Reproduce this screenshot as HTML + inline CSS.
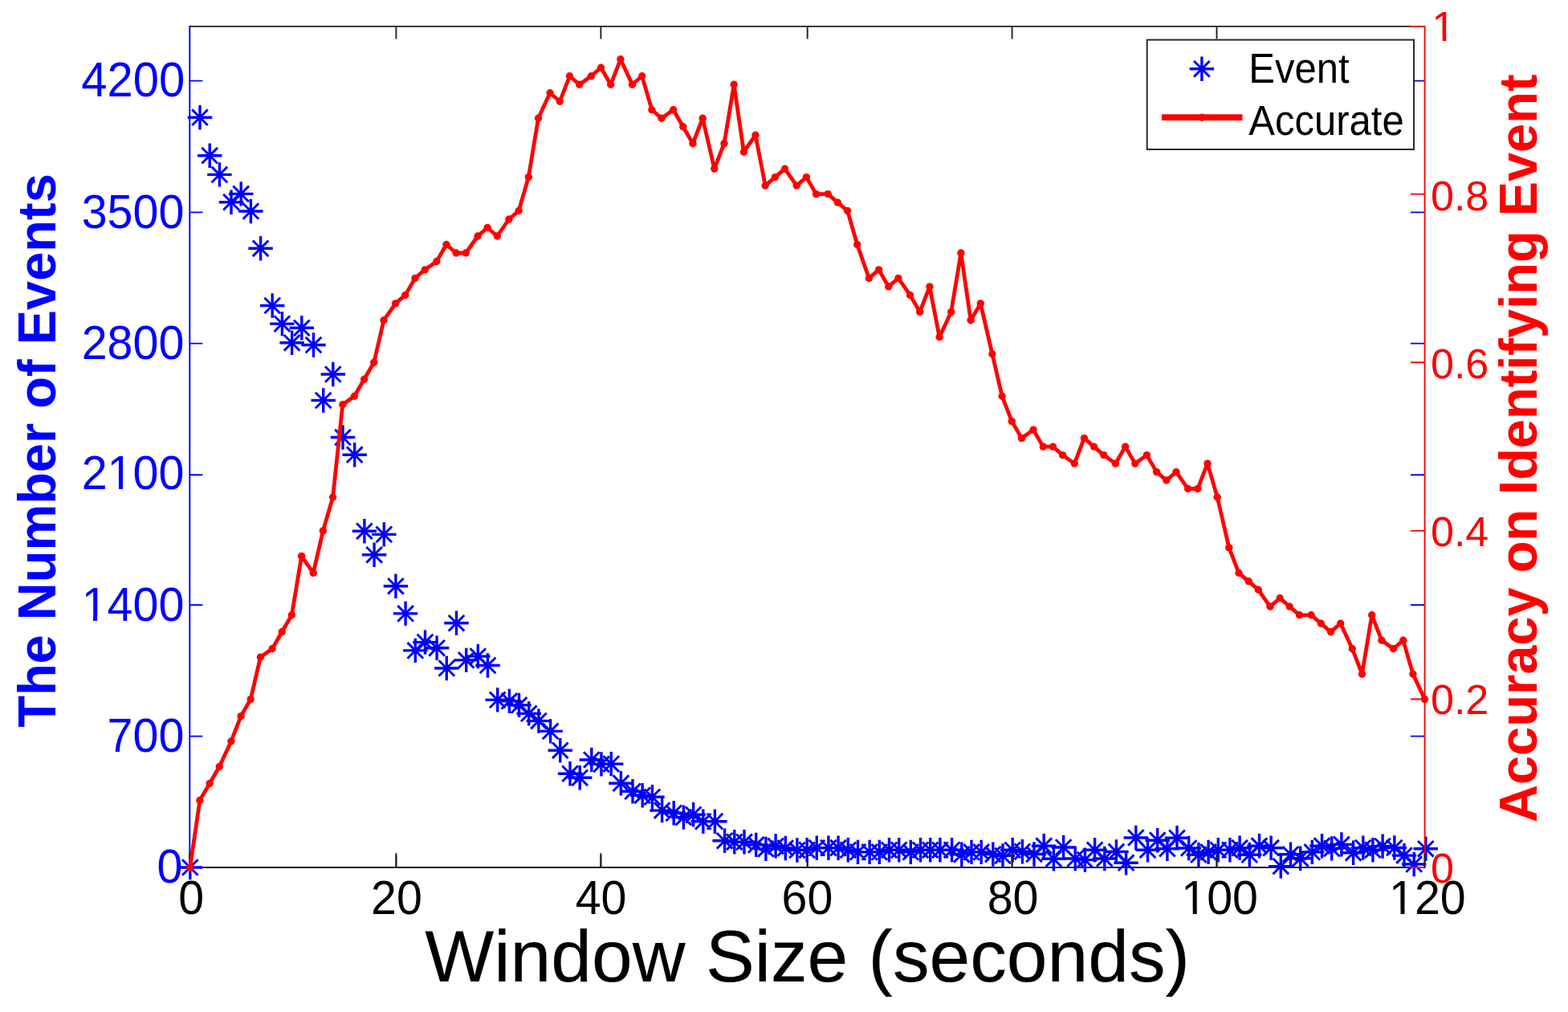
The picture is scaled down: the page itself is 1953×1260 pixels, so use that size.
<!DOCTYPE html>
<html lang="en">
<head>
<meta charset="utf-8">
<title>Window Size vs Events and Accuracy</title>
<style>
html,body{margin:0;padding:0;background:#fff;}
body{width:1953px;height:1260px;overflow:hidden;}
svg{display:block;}
</style>
</head>
<body>
<svg width="1953" height="1260" viewBox="0 0 1953 1260">
<rect width="1953" height="1260" fill="#ffffff"/>
<defs><clipPath id="c0"><path clip-rule="evenodd" d="M-172.2 -114.8h344.4v172.2h-344.4zM-92.97 -4.99H-81.34V11.48H-92.97zM-76.26 -4.99H-64.94V11.48H-76.26z"/></clipPath><clipPath id="c1"><path clip-rule="evenodd" d="M-172.2 -114.8h344.4v172.2h-344.4zM-124.89 -4.99H-113.26V11.48H-124.89zM-108.19 -4.99H-96.86V11.48H-108.19z"/></clipPath><clipPath id="c2"><path clip-rule="evenodd" d="M-171.9 -114.6h343.8v171.9h-343.8zM-45.00 -4.98H-33.39V11.46H-45.00zM-28.33 -4.98H-17.02V11.46H-28.33z"/></clipPath><clipPath id="c3"><path clip-rule="evenodd" d="M-171.9 -114.6h343.8v171.9h-343.8zM-45.00 -4.98H-33.39V11.46H-45.00zM-28.33 -4.98H-17.02V11.46H-28.33z"/></clipPath><clipPath id="c4"><path clip-rule="evenodd" d="M-156.0 -104.0h312.0v156.0h-312.0zM2.54 -4.52H13.08V10.40H2.54zM17.67 -4.52H27.93V10.40H17.67z"/></clipPath></defs>
<g id="ax1" fill="none" stroke-width="1.9">
<path d="M236.3 32.9H1774.6M236.3 1080.0H1774.6M493.4 32.9v15.5M493.4 1080.0v-15.5M748.4 32.9v15.5M748.4 1080.0v-15.5M1005.7 32.9v15.5M1005.7 1080.0v-15.5M1260.6 32.9v15.5M1260.6 1080.0v-15.5M1515.5 32.9v15.5M1515.5 1080.0v-15.5" stroke="#222222"/>
<path d="M236.3 31.95V1080.95M236.3 1080.0h16.1M1774.6 1080.0h-17.7M236.3 916.6h16.1M1774.6 916.6h-17.7M236.3 753.3h16.1M1774.6 753.3h-17.7M236.3 591.2h16.1M1774.6 591.2h-17.7M236.3 427.6h16.1M1774.6 427.6h-17.7M236.3 264.4h16.1M1774.6 264.4h-17.7M236.3 100.6h16.1M1774.6 100.6h-17.7" stroke="#0000ff"/>
</g>
<path id="stars-plus" d="M221.6 1080h30.4M236.8 1064.8v30.4M233.8 146.2h30.4M249 131v30.4M246 193.7h30.4M261.2 178.5v30.4M258.2 217.4h30.4M273.4 202.2v30.4M272.8 251.7h30.4M288 236.5v30.4M285 241.4h30.4M300.2 226.2v30.4M297.2 263h30.4M312.4 247.8v30.4M309.4 309.3h30.4M324.6 294.1v30.4M324 380.5h30.4M339.2 365.3v30.4M336.2 403.1h30.4M351.4 387.9v30.4M348.4 426.8h30.4M363.6 411.6v30.4M360.6 408.3h30.4M375.8 393.1v30.4M375.3 429.5h30.4M390.5 414.3v30.4M387.5 498.5h30.4M402.7 483.3v30.4M399.6 466h30.4M414.8 450.8v30.4M411.8 544.5h30.4M427 529.3v30.4M426.5 566.2h30.4M441.7 551v30.4M438.7 661.3h30.4M453.9 646.1v30.4M450.9 690.8h30.4M466.1 675.6v30.4M463.1 665.4h30.4M478.3 650.2v30.4M477.7 729.8h30.4M492.9 714.6v30.4M489.9 763.9h30.4M505.1 748.7v30.4M502.1 809.9h30.4M517.3 794.7v30.4M514.3 799.6h30.4M529.5 784.4v30.4M528.9 806.8h30.4M544.1 791.6v30.4M541.1 832h30.4M556.3 816.8v30.4M553.3 775.8h30.4M568.5 760.6v30.4M565.5 821.9h30.4M580.7 806.7v30.4M580.1 817.1h30.4M595.3 801.9v30.4M592.3 828.5h30.4M607.5 813.3v30.4M604.5 871.4h30.4M619.7 856.2v30.4M619.2 872.9h30.4M634.4 857.7v30.4M631.3 877.9h30.4M646.5 862.7v30.4M643.5 888.4h30.4M658.7 873.2v30.4M655.7 897.6h30.4M670.9 882.4v30.4M670.4 910.4h30.4M685.6 895.2v30.4M682.6 934.3h30.4M697.8 919.1v30.4M694.8 963.3h30.4M710 948.1v30.4M707 968.3h30.4M722.2 953.1v30.4M721.6 946h30.4M736.8 930.8v30.4M733.8 951.4h30.4M749 936.2v30.4M746 951.1h30.4M761.2 935.9v30.4M758.2 975.2h30.4M773.4 960v30.4M772.8 985.3h30.4M788 970.1v30.4M785 990.3h30.4M800.2 975.1v30.4M797.2 992.3h30.4M812.4 977.1v30.4M809.4 1009.1h30.4M824.6 993.9v30.4M824 1012.3h30.4M839.2 997.1v30.4M836.2 1017.6h30.4M851.4 1002.4v30.4M848.4 1014.3h30.4M863.6 999.1v30.4M860.6 1022.8h30.4M875.8 1007.6v30.4M875.2 1022.7h30.4M890.4 1007.5v30.4M887.4 1046.8h30.4M902.6 1031.6v30.4M899.6 1048.3h30.4M914.8 1033.1v30.4M911.8 1048.3h30.4M927 1033.1v30.4M926.5 1051.9h30.4M941.7 1036.7v30.4M938.7 1056.9h30.4M953.9 1041.7v30.4M950.9 1053.4h30.4M966.1 1038.2v30.4M963.1 1056h30.4M978.3 1040.8v30.4M977.7 1058.5h30.4M992.9 1043.3v30.4M989.9 1058.3h30.4M1005.1 1043.1v30.4M1002.1 1055.7h30.4M1017.3 1040.5v30.4M1016.7 1055.7h30.4M1031.9 1040.5v30.4M1028.9 1055.7h30.4M1044.1 1040.5v30.4M1041.1 1058.3h30.4M1056.3 1043.1v30.4M1053.3 1060.9h30.4M1068.5 1045.7v30.4M1067.9 1060.9h30.4M1083.1 1045.7v30.4M1080.1 1060.9h30.4M1095.3 1045.7v30.4M1092.3 1058.3h30.4M1107.5 1043.1v30.4M1104.5 1058.3h30.4M1119.7 1043.1v30.4M1119.1 1060.9h30.4M1134.3 1045.7v30.4M1131.3 1058.3h30.4M1146.5 1043.1v30.4M1143.5 1058.3h30.4M1158.7 1043.1v30.4M1155.7 1058.3h30.4M1170.9 1043.1v30.4M1170.4 1058.3h30.4M1185.6 1043.1v30.4M1182.6 1063.8h30.4M1197.8 1048.6v30.4M1194.8 1060.9h30.4M1210 1045.7v30.4M1207 1060.9h30.4M1222.2 1045.7v30.4M1221.6 1063.6h30.4M1236.8 1048.4v30.4M1233.8 1065.4h30.4M1249 1050.2v30.4M1246 1058.3h30.4M1261.2 1043.1v30.4M1258.2 1060.3h30.4M1273.4 1045.1v30.4M1272.8 1063.5h30.4M1288 1048.3v30.4M1285 1053.2h30.4M1300.2 1038v30.4M1297.2 1069.3h30.4M1312.4 1054.1v30.4M1309.4 1055h30.4M1324.6 1039.8v30.4M1324 1069h30.4M1339.2 1053.8v30.4M1336.2 1070.6h30.4M1351.4 1055.4v30.4M1348.4 1058.3h30.4M1363.6 1043.1v30.4M1360.6 1069h30.4M1375.8 1053.8v30.4M1375.2 1060.4h30.4M1390.4 1045.2v30.4M1387.4 1074.2h30.4M1402.6 1059v30.4M1399.6 1043h30.4M1414.8 1027.8v30.4M1414.3 1058.3h30.4M1429.5 1043.1v30.4M1426.5 1046.2h30.4M1441.7 1031v30.4M1438.7 1056.7h30.4M1453.9 1041.5v30.4M1450.8 1043.3h30.4M1466 1028.1v30.4M1465.5 1056h30.4M1480.7 1040.8v30.4M1477.7 1064.2h30.4M1492.9 1049v30.4M1489.9 1060.9h30.4M1505.1 1045.7v30.4M1502.1 1058.3h30.4M1517.3 1043.1v30.4M1516.7 1058.3h30.4M1531.9 1043.1v30.4M1528.9 1055.7h30.4M1544.1 1040.5v30.4M1541.1 1064.2h30.4M1556.3 1049v30.4M1553.3 1053.2h30.4M1568.5 1038v30.4M1567.9 1055.7h30.4M1583.1 1040.5v30.4M1580.1 1078.6h30.4M1595.3 1063.4v30.4M1592.3 1063.8h30.4M1607.5 1048.6v30.4M1604.5 1068.8h30.4M1619.7 1053.6v30.4M1619.1 1060.9h30.4M1634.3 1045.7v30.4M1631.3 1053.2h30.4M1646.5 1038v30.4M1643.5 1056.4h30.4M1658.7 1041.2v30.4M1655.7 1051.4h30.4M1670.9 1036.2v30.4M1670.4 1061.8h30.4M1685.6 1046.6v30.4M1682.6 1055.6h30.4M1697.8 1040.4v30.4M1694.7 1058.3h30.4M1709.9 1043.1v30.4M1706.9 1053.6h30.4M1722.1 1038.4v30.4M1721.6 1055.5h30.4M1736.8 1040.3v30.4M1733.8 1065.1h30.4M1749 1049.9v30.4M1746 1076h30.4M1761.2 1060.8v30.4M1760.6 1056.8h30.4M1775.8 1041.6v30.4" stroke="#0000ff" stroke-width="3.4" fill="none"/>
<path id="stars-cross" d="M227 1070.2l19.6 19.6M227 1089.8l19.6 -19.6M239.2 136.4l19.6 19.6M239.2 156l19.6 -19.6M251.4 183.9l19.6 19.6M251.4 203.5l19.6 -19.6M263.6 207.6l19.6 19.6M263.6 227.2l19.6 -19.6M278.2 241.9l19.6 19.6M278.2 261.5l19.6 -19.6M290.4 231.6l19.6 19.6M290.4 251.2l19.6 -19.6M302.6 253.2l19.6 19.6M302.6 272.8l19.6 -19.6M314.8 299.5l19.6 19.6M314.8 319.1l19.6 -19.6M329.4 370.7l19.6 19.6M329.4 390.3l19.6 -19.6M341.6 393.3l19.6 19.6M341.6 412.9l19.6 -19.6M353.8 417l19.6 19.6M353.8 436.6l19.6 -19.6M366 398.5l19.6 19.6M366 418.1l19.6 -19.6M380.7 419.7l19.6 19.6M380.7 439.3l19.6 -19.6M392.9 488.7l19.6 19.6M392.9 508.3l19.6 -19.6M405 456.2l19.6 19.6M405 475.8l19.6 -19.6M417.2 534.7l19.6 19.6M417.2 554.3l19.6 -19.6M431.9 556.4l19.6 19.6M431.9 576l19.6 -19.6M444.1 651.5l19.6 19.6M444.1 671.1l19.6 -19.6M456.3 681l19.6 19.6M456.3 700.6l19.6 -19.6M468.5 655.6l19.6 19.6M468.5 675.2l19.6 -19.6M483.1 720l19.6 19.6M483.1 739.6l19.6 -19.6M495.3 754.1l19.6 19.6M495.3 773.7l19.6 -19.6M507.5 800.1l19.6 19.6M507.5 819.7l19.6 -19.6M519.7 789.8l19.6 19.6M519.7 809.4l19.6 -19.6M534.3 797l19.6 19.6M534.3 816.6l19.6 -19.6M546.5 822.2l19.6 19.6M546.5 841.8l19.6 -19.6M558.7 766l19.6 19.6M558.7 785.6l19.6 -19.6M570.9 812.1l19.6 19.6M570.9 831.7l19.6 -19.6M585.5 807.3l19.6 19.6M585.5 826.9l19.6 -19.6M597.7 818.7l19.6 19.6M597.7 838.3l19.6 -19.6M609.9 861.6l19.6 19.6M609.9 881.2l19.6 -19.6M624.6 863.1l19.6 19.6M624.6 882.7l19.6 -19.6M636.7 868.1l19.6 19.6M636.7 887.7l19.6 -19.6M648.9 878.6l19.6 19.6M648.9 898.2l19.6 -19.6M661.1 887.8l19.6 19.6M661.1 907.4l19.6 -19.6M675.8 900.6l19.6 19.6M675.8 920.2l19.6 -19.6M688 924.5l19.6 19.6M688 944.1l19.6 -19.6M700.2 953.5l19.6 19.6M700.2 973.1l19.6 -19.6M712.4 958.5l19.6 19.6M712.4 978.1l19.6 -19.6M727 936.2l19.6 19.6M727 955.8l19.6 -19.6M739.2 941.6l19.6 19.6M739.2 961.2l19.6 -19.6M751.4 941.3l19.6 19.6M751.4 960.9l19.6 -19.6M763.6 965.4l19.6 19.6M763.6 985l19.6 -19.6M778.2 975.5l19.6 19.6M778.2 995.1l19.6 -19.6M790.4 980.5l19.6 19.6M790.4 1000.1l19.6 -19.6M802.6 982.5l19.6 19.6M802.6 1002.1l19.6 -19.6M814.8 999.3l19.6 19.6M814.8 1018.9l19.6 -19.6M829.4 1002.5l19.6 19.6M829.4 1022.1l19.6 -19.6M841.6 1007.8l19.6 19.6M841.6 1027.4l19.6 -19.6M853.8 1004.5l19.6 19.6M853.8 1024.1l19.6 -19.6M866 1013l19.6 19.6M866 1032.6l19.6 -19.6M880.6 1012.9l19.6 19.6M880.6 1032.5l19.6 -19.6M892.8 1037l19.6 19.6M892.8 1056.6l19.6 -19.6M905 1038.5l19.6 19.6M905 1058.1l19.6 -19.6M917.2 1038.5l19.6 19.6M917.2 1058.1l19.6 -19.6M931.9 1042.1l19.6 19.6M931.9 1061.7l19.6 -19.6M944.1 1047.1l19.6 19.6M944.1 1066.7l19.6 -19.6M956.3 1043.6l19.6 19.6M956.3 1063.2l19.6 -19.6M968.5 1046.2l19.6 19.6M968.5 1065.8l19.6 -19.6M983.1 1048.7l19.6 19.6M983.1 1068.3l19.6 -19.6M995.3 1048.5l19.6 19.6M995.3 1068.1l19.6 -19.6M1007.5 1045.9l19.6 19.6M1007.5 1065.5l19.6 -19.6M1022.1 1045.9l19.6 19.6M1022.1 1065.5l19.6 -19.6M1034.3 1045.9l19.6 19.6M1034.3 1065.5l19.6 -19.6M1046.5 1048.5l19.6 19.6M1046.5 1068.1l19.6 -19.6M1058.7 1051.1l19.6 19.6M1058.7 1070.7l19.6 -19.6M1073.3 1051.1l19.6 19.6M1073.3 1070.7l19.6 -19.6M1085.5 1051.1l19.6 19.6M1085.5 1070.7l19.6 -19.6M1097.7 1048.5l19.6 19.6M1097.7 1068.1l19.6 -19.6M1109.9 1048.5l19.6 19.6M1109.9 1068.1l19.6 -19.6M1124.5 1051.1l19.6 19.6M1124.5 1070.7l19.6 -19.6M1136.7 1048.5l19.6 19.6M1136.7 1068.1l19.6 -19.6M1148.9 1048.5l19.6 19.6M1148.9 1068.1l19.6 -19.6M1161.1 1048.5l19.6 19.6M1161.1 1068.1l19.6 -19.6M1175.8 1048.5l19.6 19.6M1175.8 1068.1l19.6 -19.6M1188 1054l19.6 19.6M1188 1073.6l19.6 -19.6M1200.2 1051.1l19.6 19.6M1200.2 1070.7l19.6 -19.6M1212.4 1051.1l19.6 19.6M1212.4 1070.7l19.6 -19.6M1227 1053.8l19.6 19.6M1227 1073.4l19.6 -19.6M1239.2 1055.6l19.6 19.6M1239.2 1075.2l19.6 -19.6M1251.4 1048.5l19.6 19.6M1251.4 1068.1l19.6 -19.6M1263.6 1050.5l19.6 19.6M1263.6 1070.1l19.6 -19.6M1278.2 1053.7l19.6 19.6M1278.2 1073.3l19.6 -19.6M1290.4 1043.4l19.6 19.6M1290.4 1063l19.6 -19.6M1302.6 1059.5l19.6 19.6M1302.6 1079.1l19.6 -19.6M1314.8 1045.2l19.6 19.6M1314.8 1064.8l19.6 -19.6M1329.4 1059.2l19.6 19.6M1329.4 1078.8l19.6 -19.6M1341.6 1060.8l19.6 19.6M1341.6 1080.4l19.6 -19.6M1353.8 1048.5l19.6 19.6M1353.8 1068.1l19.6 -19.6M1366 1059.2l19.6 19.6M1366 1078.8l19.6 -19.6M1380.6 1050.6l19.6 19.6M1380.6 1070.2l19.6 -19.6M1392.8 1064.4l19.6 19.6M1392.8 1084l19.6 -19.6M1405 1033.2l19.6 19.6M1405 1052.8l19.6 -19.6M1419.7 1048.5l19.6 19.6M1419.7 1068.1l19.6 -19.6M1431.9 1036.4l19.6 19.6M1431.9 1056l19.6 -19.6M1444.1 1046.9l19.6 19.6M1444.1 1066.5l19.6 -19.6M1456.2 1033.5l19.6 19.6M1456.2 1053.1l19.6 -19.6M1470.9 1046.2l19.6 19.6M1470.9 1065.8l19.6 -19.6M1483.1 1054.4l19.6 19.6M1483.1 1074l19.6 -19.6M1495.3 1051.1l19.6 19.6M1495.3 1070.7l19.6 -19.6M1507.5 1048.5l19.6 19.6M1507.5 1068.1l19.6 -19.6M1522.1 1048.5l19.6 19.6M1522.1 1068.1l19.6 -19.6M1534.3 1045.9l19.6 19.6M1534.3 1065.5l19.6 -19.6M1546.5 1054.4l19.6 19.6M1546.5 1074l19.6 -19.6M1558.7 1043.4l19.6 19.6M1558.7 1063l19.6 -19.6M1573.3 1045.9l19.6 19.6M1573.3 1065.5l19.6 -19.6M1585.5 1068.8l19.6 19.6M1585.5 1088.4l19.6 -19.6M1597.7 1054l19.6 19.6M1597.7 1073.6l19.6 -19.6M1609.9 1059l19.6 19.6M1609.9 1078.6l19.6 -19.6M1624.5 1051.1l19.6 19.6M1624.5 1070.7l19.6 -19.6M1636.7 1043.4l19.6 19.6M1636.7 1063l19.6 -19.6M1648.9 1046.6l19.6 19.6M1648.9 1066.2l19.6 -19.6M1661.1 1041.6l19.6 19.6M1661.1 1061.2l19.6 -19.6M1675.8 1052l19.6 19.6M1675.8 1071.6l19.6 -19.6M1688 1045.8l19.6 19.6M1688 1065.4l19.6 -19.6M1700.1 1048.5l19.6 19.6M1700.1 1068.1l19.6 -19.6M1712.3 1043.8l19.6 19.6M1712.3 1063.4l19.6 -19.6M1727 1045.7l19.6 19.6M1727 1065.3l19.6 -19.6M1739.2 1055.3l19.6 19.6M1739.2 1074.9l19.6 -19.6M1751.4 1066.2l19.6 19.6M1751.4 1085.8l19.6 -19.6M1766 1047l19.6 19.6M1766 1066.6l19.6 -19.6" stroke="#0000ff" stroke-width="2.9" fill="none"/>
<g id="ax2" fill="none" stroke-width="1.9">
<path d="M1774.6 31.95V1080.95M1774.6 1080.0h-17.7M1774.6 870.5h-17.7M1774.6 660.9h-17.7M1774.6 451.3h-17.7M1774.6 241.6h-17.7M1774.6 32.9h-17.7" stroke="#ff0000"/>
<path d="M236.3 1080.95v-18.65M493.4 1080.95v-18.65M748.4 1080.95v-18.65M1005.7 1080.95v-18.65M1260.6 1080.95v-18.65M1515.5 1080.95v-18.65M1774.4 1080.95v-18.65" stroke="#222222"/>
</g>
<polyline id="acc" points="236.7,1080.3 248.9,996.4 261.1,975.5 273.3,954.5 287.9,923 300.1,891.6 312.2,870.6 324.4,818.2 339.1,807.7 351.2,786.7 363.4,765.8 375.6,692.4 390.2,713.4 402.4,660.9 414.6,619 426.8,503.7 441.4,493.2 453.6,472.2 465.8,451.3 478,398.8 492.6,377.9 504.8,367.4 517,346.4 529.2,335.9 543.8,325.5 556,304.5 568.1,315 580.3,315 595,294 607.1,283.5 619.3,294 633.9,273 646.1,262.5 658.3,220.6 670.5,147.2 685.1,115.8 697.3,126.3 709.5,94.8 721.7,105.3 736.3,94.8 748.5,84.3 760.7,105.3 772.9,73.8 787.5,105.3 799.7,94.8 811.9,136.7 824,147.2 838.7,136.7 850.8,157.7 863,178.7 875.2,147.2 889.8,210.1 902,178.7 914.2,105.3 926.4,189.2 941,168.2 953.2,231.1 965.4,220.6 977.6,210.1 992.2,231.1 1004.4,220.6 1016.6,241.6 1031.2,241.6 1043.4,252.1 1055.6,262.5 1067.7,304.5 1082.4,346.4 1094.6,335.9 1106.7,356.9 1118.9,346.4 1133.5,367.4 1145.7,388.4 1157.9,356.9 1170.1,419.8 1184.7,388.4 1196.9,315 1209.1,398.8 1221.3,377.9 1235.9,440.8 1248.1,493.2 1260.3,524.6 1272.5,545.6 1287.1,535.1 1299.3,556.1 1311.5,556.1 1323.6,566.6 1338.3,577.1 1350.4,545.6 1362.6,556.1 1374.8,566.6 1389.4,577.1 1401.6,556.1 1413.8,577.1 1428.4,566.6 1440.6,587.6 1452.8,598 1465,587.6 1479.6,608.5 1491.8,608.5 1504,577.1 1516.2,619 1530.8,681.9 1543,713.4 1555.2,723.8 1567.3,734.3 1582,755.3 1594.2,744.8 1606.3,755.3 1618.5,765.8 1633.1,765.8 1645.3,776.3 1657.5,786.7 1669.7,776.3 1684.3,807.7 1696.5,839.2 1708.7,765.8 1720.9,797.2 1735.5,807.7 1747.7,797.2 1759.9,839.2 1774.5,870.6" stroke="#ff0000" stroke-width="4.8" fill="none" stroke-linejoin="round" stroke-linecap="round"/>
<g fill="#ff0000">
<circle cx="236.7" cy="1080.3" r="4.7"/>
<circle cx="248.9" cy="996.4" r="4.7"/>
<circle cx="261.1" cy="975.5" r="4.7"/>
<circle cx="273.3" cy="954.5" r="4.7"/>
<circle cx="287.9" cy="923" r="4.7"/>
<circle cx="300.1" cy="891.6" r="4.7"/>
<circle cx="312.2" cy="870.6" r="4.7"/>
<circle cx="324.4" cy="818.2" r="4.7"/>
<circle cx="339.1" cy="807.7" r="4.7"/>
<circle cx="351.2" cy="786.7" r="4.7"/>
<circle cx="363.4" cy="765.8" r="4.7"/>
<circle cx="375.6" cy="692.4" r="4.7"/>
<circle cx="390.2" cy="713.4" r="4.7"/>
<circle cx="402.4" cy="660.9" r="4.7"/>
<circle cx="414.6" cy="619" r="4.7"/>
<circle cx="426.8" cy="503.7" r="4.7"/>
<circle cx="441.4" cy="493.2" r="4.7"/>
<circle cx="453.6" cy="472.2" r="4.7"/>
<circle cx="465.8" cy="451.3" r="4.7"/>
<circle cx="478" cy="398.8" r="4.7"/>
<circle cx="492.6" cy="377.9" r="4.7"/>
<circle cx="504.8" cy="367.4" r="4.7"/>
<circle cx="517" cy="346.4" r="4.7"/>
<circle cx="529.2" cy="335.9" r="4.7"/>
<circle cx="543.8" cy="325.5" r="4.7"/>
<circle cx="556" cy="304.5" r="4.7"/>
<circle cx="568.1" cy="315" r="4.7"/>
<circle cx="580.3" cy="315" r="4.7"/>
<circle cx="595" cy="294" r="4.7"/>
<circle cx="607.1" cy="283.5" r="4.7"/>
<circle cx="619.3" cy="294" r="4.7"/>
<circle cx="633.9" cy="273" r="4.7"/>
<circle cx="646.1" cy="262.5" r="4.7"/>
<circle cx="658.3" cy="220.6" r="4.7"/>
<circle cx="670.5" cy="147.2" r="4.7"/>
<circle cx="685.1" cy="115.8" r="4.7"/>
<circle cx="697.3" cy="126.3" r="4.7"/>
<circle cx="709.5" cy="94.8" r="4.7"/>
<circle cx="721.7" cy="105.3" r="4.7"/>
<circle cx="736.3" cy="94.8" r="4.7"/>
<circle cx="748.5" cy="84.3" r="4.7"/>
<circle cx="760.7" cy="105.3" r="4.7"/>
<circle cx="772.9" cy="73.8" r="4.7"/>
<circle cx="787.5" cy="105.3" r="4.7"/>
<circle cx="799.7" cy="94.8" r="4.7"/>
<circle cx="811.9" cy="136.7" r="4.7"/>
<circle cx="824" cy="147.2" r="4.7"/>
<circle cx="838.7" cy="136.7" r="4.7"/>
<circle cx="850.8" cy="157.7" r="4.7"/>
<circle cx="863" cy="178.7" r="4.7"/>
<circle cx="875.2" cy="147.2" r="4.7"/>
<circle cx="889.8" cy="210.1" r="4.7"/>
<circle cx="902" cy="178.7" r="4.7"/>
<circle cx="914.2" cy="105.3" r="4.7"/>
<circle cx="926.4" cy="189.2" r="4.7"/>
<circle cx="941" cy="168.2" r="4.7"/>
<circle cx="953.2" cy="231.1" r="4.7"/>
<circle cx="965.4" cy="220.6" r="4.7"/>
<circle cx="977.6" cy="210.1" r="4.7"/>
<circle cx="992.2" cy="231.1" r="4.7"/>
<circle cx="1004.4" cy="220.6" r="4.7"/>
<circle cx="1016.6" cy="241.6" r="4.7"/>
<circle cx="1031.2" cy="241.6" r="4.7"/>
<circle cx="1043.4" cy="252.1" r="4.7"/>
<circle cx="1055.6" cy="262.5" r="4.7"/>
<circle cx="1067.7" cy="304.5" r="4.7"/>
<circle cx="1082.4" cy="346.4" r="4.7"/>
<circle cx="1094.6" cy="335.9" r="4.7"/>
<circle cx="1106.7" cy="356.9" r="4.7"/>
<circle cx="1118.9" cy="346.4" r="4.7"/>
<circle cx="1133.5" cy="367.4" r="4.7"/>
<circle cx="1145.7" cy="388.4" r="4.7"/>
<circle cx="1157.9" cy="356.9" r="4.7"/>
<circle cx="1170.1" cy="419.8" r="4.7"/>
<circle cx="1184.7" cy="388.4" r="4.7"/>
<circle cx="1196.9" cy="315" r="4.7"/>
<circle cx="1209.1" cy="398.8" r="4.7"/>
<circle cx="1221.3" cy="377.9" r="4.7"/>
<circle cx="1235.9" cy="440.8" r="4.7"/>
<circle cx="1248.1" cy="493.2" r="4.7"/>
<circle cx="1260.3" cy="524.6" r="4.7"/>
<circle cx="1272.5" cy="545.6" r="4.7"/>
<circle cx="1287.1" cy="535.1" r="4.7"/>
<circle cx="1299.3" cy="556.1" r="4.7"/>
<circle cx="1311.5" cy="556.1" r="4.7"/>
<circle cx="1323.6" cy="566.6" r="4.7"/>
<circle cx="1338.3" cy="577.1" r="4.7"/>
<circle cx="1350.4" cy="545.6" r="4.7"/>
<circle cx="1362.6" cy="556.1" r="4.7"/>
<circle cx="1374.8" cy="566.6" r="4.7"/>
<circle cx="1389.4" cy="577.1" r="4.7"/>
<circle cx="1401.6" cy="556.1" r="4.7"/>
<circle cx="1413.8" cy="577.1" r="4.7"/>
<circle cx="1428.4" cy="566.6" r="4.7"/>
<circle cx="1440.6" cy="587.6" r="4.7"/>
<circle cx="1452.8" cy="598" r="4.7"/>
<circle cx="1465" cy="587.6" r="4.7"/>
<circle cx="1479.6" cy="608.5" r="4.7"/>
<circle cx="1491.8" cy="608.5" r="4.7"/>
<circle cx="1504" cy="577.1" r="4.7"/>
<circle cx="1516.2" cy="619" r="4.7"/>
<circle cx="1530.8" cy="681.9" r="4.7"/>
<circle cx="1543" cy="713.4" r="4.7"/>
<circle cx="1555.2" cy="723.8" r="4.7"/>
<circle cx="1567.3" cy="734.3" r="4.7"/>
<circle cx="1582" cy="755.3" r="4.7"/>
<circle cx="1594.2" cy="744.8" r="4.7"/>
<circle cx="1606.3" cy="755.3" r="4.7"/>
<circle cx="1618.5" cy="765.8" r="4.7"/>
<circle cx="1633.1" cy="765.8" r="4.7"/>
<circle cx="1645.3" cy="776.3" r="4.7"/>
<circle cx="1657.5" cy="786.7" r="4.7"/>
<circle cx="1669.7" cy="776.3" r="4.7"/>
<circle cx="1684.3" cy="807.7" r="4.7"/>
<circle cx="1696.5" cy="839.2" r="4.7"/>
<circle cx="1708.7" cy="765.8" r="4.7"/>
<circle cx="1720.9" cy="797.2" r="4.7"/>
<circle cx="1735.5" cy="807.7" r="4.7"/>
<circle cx="1747.7" cy="797.2" r="4.7"/>
<circle cx="1759.9" cy="839.2" r="4.7"/>
<circle cx="1774.5" cy="870.6" r="4.7"/>
</g>
<g font-family="'Liberation Sans', Arial, Helvetica, sans-serif">
<text transform="translate(230.2 120.3) scale(1 1.045)" font-size="58.0" fill="#0000ff" text-anchor="end">4200</text>
<text transform="translate(229.3 283.6) scale(1 1.045)" font-size="57.4" fill="#0000ff" text-anchor="end">3500</text>
<text transform="translate(229.3 447.2) scale(1 1.045)" font-size="57.4" fill="#0000ff" text-anchor="end">2800</text>
<text transform="translate(229.3 608.9) scale(1 1.045)" font-size="57.4" fill="#0000ff" text-anchor="end" clip-path="url(#c0)">2100</text>
<text transform="translate(229.3 772.5) scale(1 1.045)" font-size="57.4" fill="#0000ff" text-anchor="end" clip-path="url(#c1)">1400</text>
<text transform="translate(229.3 935.6) scale(1 1.045)" font-size="57.4" fill="#0000ff" text-anchor="end">700</text>
<text transform="translate(227.4 1098.5) scale(1 1.045)" font-size="57.4" fill="#0000ff" text-anchor="end">0</text>
<text transform="translate(238.2 1138.2) scale(1 1.04)" font-size="57.3" fill="#000000" text-anchor="middle">0</text>
<text transform="translate(493.9 1138.2) scale(1 1.04)" font-size="57.3" fill="#000000" text-anchor="middle">20</text>
<text transform="translate(748.5 1138.2) scale(1 1.04)" font-size="57.3" fill="#000000" text-anchor="middle">40</text>
<text transform="translate(1005.4 1138.2) scale(1 1.04)" font-size="57.3" fill="#000000" text-anchor="middle">60</text>
<text transform="translate(1261.6 1138.2) scale(1 1.04)" font-size="57.3" fill="#000000" text-anchor="middle">80</text>
<text transform="translate(1519.1 1138.2) scale(1 1.04)" font-size="57.3" fill="#000000" text-anchor="middle" clip-path="url(#c2)">100</text>
<text transform="translate(1777.9 1138.2) scale(1 1.04)" font-size="57.3" fill="#000000" text-anchor="middle" clip-path="url(#c3)">120</text>
<text transform="translate(1782 1098.5) scale(1 0.995)" font-size="52" fill="#ff0000" text-anchor="start">0</text>
<text transform="translate(1782 889) scale(1 0.995)" font-size="52" fill="#ff0000" text-anchor="start">0.2</text>
<text transform="translate(1782 680.3) scale(1 0.995)" font-size="52" fill="#ff0000" text-anchor="start">0.4</text>
<text transform="translate(1782 470.7) scale(1 0.995)" font-size="52" fill="#ff0000" text-anchor="start">0.6</text>
<text transform="translate(1782 261.6) scale(1 0.995)" font-size="52" fill="#ff0000" text-anchor="start">0.8</text>
<text transform="translate(1783.6 50.8) scale(1 0.995)" font-size="52" fill="#ff0000" text-anchor="start" clip-path="url(#c4)">1</text>
<text transform="translate(1005.6 1221.8)" font-size="91.2" fill="#000000" text-anchor="middle" stroke="#000000" stroke-width="0.15">Window Size (seconds)</text>
<text transform="translate(69.2 561) rotate(-90) scale(1 1.035)" font-size="65" fill="#0000ff" text-anchor="middle" font-weight="bold">The Number of Events</text>
<text transform="translate(1913.6 558.2) rotate(-90) scale(1 1.035)" font-size="65" fill="#ff0000" text-anchor="middle" font-weight="bold">Accuracy on Identifying Event</text>
</g>
<g id="legend" font-family="'Liberation Sans', Arial, Helvetica, sans-serif">
<rect x="1428.7" y="49.6" width="332.3" height="136.4" fill="#ffffff" stroke="#222222" stroke-width="1.9"/>
<path d="M1481.7 85.8h30.4M1496.9 70.6v30.4" stroke="#0000ff" stroke-width="3.4" fill="none"/>
<path d="M1487.1 76l19.6 19.6M1487.1 95.6l19.6 -19.6" stroke="#0000ff" stroke-width="2.9" fill="none"/>
<path d="M1446.9 146.1H1547.5" stroke="#ff0000" stroke-width="7.6" fill="none"/>
<circle cx="1497" cy="146.3" r="4.7" fill="#ff0000"/>
<text transform="translate(1555.3 103.1) scale(1 1.045)" font-size="49" fill="#000000" text-anchor="start">Event</text>
<text transform="translate(1555.3 168.4) scale(1 1.045)" font-size="49" fill="#000000" text-anchor="start">Accurate</text>
</g>
</svg>
</body>
</html>
